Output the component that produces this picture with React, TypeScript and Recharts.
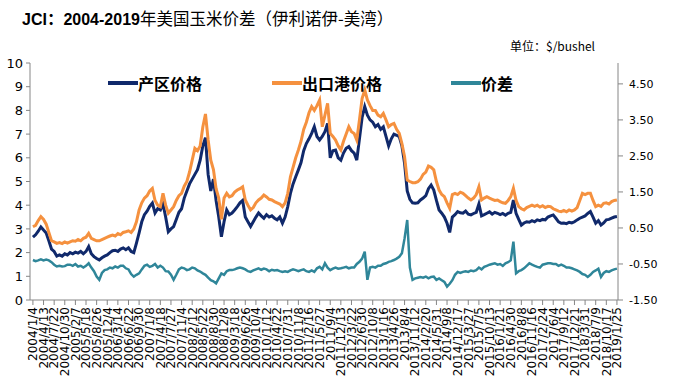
import React from "react";
import { LineChart, Line, XAxis, YAxis } from "recharts";

// Tick labels (one every 100 days); data points are every 25 days (4 per label)
const dateLabels = [
  "2004/1/4", "2004/4/13", "2004/7/22", "2004/10/30", "2005/2/7", "2005/5/18", "2005/8/26", "2005/12/4",
  "2006/3/14", "2006/6/22", "2006/9/30", "2007/1/8", "2007/4/18", "2007/7/27", "2007/11/4", "2008/2/12",
  "2008/5/22", "2008/8/30", "2008/12/8", "2009/3/18", "2009/6/26", "2009/10/4", "2010/1/12", "2010/4/22",
  "2010/7/31", "2010/11/8", "2011/2/16", "2011/5/27", "2011/9/4", "2011/12/13", "2012/3/22", "2012/6/30",
  "2012/10/8", "2013/1/16", "2013/4/26", "2013/8/4", "2013/11/12", "2014/2/20", "2014/5/31", "2014/9/8",
  "2014/12/17", "2015/3/27", "2015/7/5", "2015/10/13", "2016/1/21", "2016/4/30", "2016/8/8", "2016/11/16",
  "2017/2/24", "2017/6/4", "2017/9/12", "2017/12/21", "2018/3/31", "2018/7/9", "2018/10/17", "2019/1/25",
];

// 产区价格 (Illinois), $/bushel
const producerPrice = [
  2.65, 2.75, 2.9, 3.08, 2.95, 2.83, 2.5, 2.15, 2.05, 1.85, 1.9, 1.85, 1.95, 1.9, 2.0, 1.95,
  2.02, 1.98, 2.05, 1.95, 2.05, 2.25, 1.95, 1.83, 1.75, 1.69, 1.78, 1.85, 1.9, 2.0, 2.08, 2.1,
  2.05, 2.15, 2.2, 2.12, 2.2, 2.05, 2.0, 2.4, 2.83, 3.3, 3.6, 3.75, 3.95, 4.09, 3.67, 3.85,
  3.8, 4.05, 3.5, 2.88, 3.0, 3.1, 3.4, 3.7, 3.85, 4.3, 4.6, 4.9, 5.1, 5.3, 5.5, 5.9,
  6.5, 6.85, 5.3, 4.6, 5.1, 4.2, 3.5, 2.67, 3.3, 3.8, 3.6, 3.67, 3.8, 3.94, 4.1, 4.2,
  3.5, 3.3, 3.1, 3.3, 3.5, 3.67, 3.55, 3.45, 3.6, 3.5, 3.55, 3.45, 3.38, 3.5, 3.24, 3.5,
  3.94, 4.5, 4.9, 5.2, 5.49, 5.8, 6.3, 6.6, 6.8, 7.03, 7.31, 6.9, 6.75, 6.9, 7.1, 7.45,
  6.0, 6.3, 6.33, 6.0, 5.9, 6.2, 6.4, 6.47, 6.3, 6.2, 5.9, 6.8, 7.7, 8.16, 7.8, 7.6,
  7.5, 7.31, 7.4, 7.2, 7.31, 6.9, 6.5, 6.8, 7.0, 6.95, 6.89, 6.5, 5.77, 4.6, 4.25, 4.1,
  4.08, 4.1, 4.22, 4.3, 4.4, 4.7, 4.85, 4.64, 4.2, 3.8, 3.66, 3.5, 3.24, 2.85, 3.5, 3.6,
  3.73, 3.68, 3.66, 3.75, 3.62, 3.59, 3.65, 3.7, 4.05, 3.55, 3.6, 3.66, 3.72, 3.62, 3.7, 3.66,
  3.6, 3.65, 3.58, 3.66, 3.7, 4.22, 3.66, 3.4, 3.16, 3.25, 3.3, 3.28, 3.35, 3.3, 3.38, 3.35,
  3.4, 3.38, 3.5, 3.55, 3.59, 3.45, 3.3, 3.24, 3.25, 3.22, 3.28, 3.25, 3.3, 3.38, 3.45, 3.5,
  3.55, 3.65, 3.73, 3.5, 3.24, 3.35, 3.16, 3.25, 3.38, 3.4, 3.45, 3.5, 3.52,
];

// 出口港价格 (Gulf), $/bushel
const exportPrice = [
  3.09, 3.15, 3.35, 3.52, 3.4, 3.2, 2.85, 2.5, 2.45, 2.39, 2.42, 2.38, 2.45, 2.4, 2.45, 2.5,
  2.48, 2.55, 2.5, 2.6, 2.65, 2.81, 2.6, 2.55, 2.5, 2.5, 2.55, 2.6, 2.65, 2.7, 2.74, 2.7,
  2.8, 2.75, 2.85, 2.88, 2.92, 2.85, 3.0, 3.3, 3.8, 4.1, 4.3, 4.4, 4.6, 4.71, 4.2, 4.0,
  3.94, 4.5, 4.0, 3.66, 3.8, 3.94, 4.2, 4.4, 4.5, 4.8, 5.0, 5.4, 5.9, 6.4, 6.3, 6.5,
  7.3, 7.85, 6.75, 5.9, 5.5, 4.7, 4.3, 3.4, 4.3, 4.5, 4.35, 4.4, 4.55, 4.64, 4.7, 4.78,
  4.22, 4.0, 3.8, 3.9, 4.1, 4.22, 4.3, 4.43, 4.35, 4.25, 4.22, 4.15, 4.1, 4.05, 3.94, 4.1,
  4.5, 5.2, 5.6, 6.0, 6.33, 6.7, 7.2, 7.5, 7.9, 8.16, 8.0, 8.2, 8.44, 7.31, 7.8, 8.3,
  7.03, 6.9, 6.75, 6.5, 6.33, 6.7, 7.0, 7.31, 7.1, 7.03, 6.75, 7.6, 8.5, 8.86, 8.44, 8.2,
  8.0, 8.0, 7.8, 7.73, 7.87, 7.6, 7.31, 7.4, 7.45, 7.2, 7.03, 6.6, 6.05, 5.06, 5.0, 4.95,
  4.95, 4.99, 5.1, 5.3, 5.4, 5.65, 5.6, 5.49, 5.0, 4.64, 4.45, 4.36, 4.1, 3.87, 4.45, 4.5,
  4.45, 4.55, 4.5, 4.4, 4.3, 4.22, 4.3, 4.45, 4.78, 4.22, 4.3, 4.36, 4.3, 4.25, 4.2, 4.22,
  4.15, 4.1, 4.08, 4.2, 4.36, 4.71, 4.2, 3.94, 3.85, 3.8, 3.9, 3.95, 4.0, 3.95, 4.0, 3.92,
  3.98, 3.9, 3.95, 3.94, 3.85, 3.8, 3.75, 3.73, 3.78, 3.72, 3.8, 3.75, 3.8, 3.9, 4.2, 4.5,
  4.45, 4.5, 4.5, 4.2, 3.94, 4.0, 3.95, 4.08, 4.1, 4.05, 4.15, 4.2, 4.22,
];

// 价差 (right axis), $/bushel
const spread = [
  -0.39, -0.42, -0.4, -0.37, -0.4, -0.38, -0.4, -0.45, -0.52, -0.57, -0.55, -0.57, -0.56, -0.52, -0.52, -0.55,
  -0.5, -0.57, -0.55, -0.6, -0.55, -0.48, -0.6, -0.7, -0.85, -0.94, -0.75, -0.67, -0.65, -0.6, -0.62, -0.57,
  -0.6, -0.55, -0.55, -0.62, -0.65, -0.78, -0.85, -0.8, -0.76, -0.65, -0.55, -0.52, -0.58, -0.55, -0.5, -0.6,
  -0.55, -0.6, -0.7, -0.71, -0.8, -0.94, -0.8, -0.65, -0.6, -0.62, -0.67, -0.65, -0.6, -0.62, -0.68, -0.71,
  -0.76, -0.8, -0.88, -0.95, -0.98, -1.04, -0.9, -0.76, -0.8, -0.7, -0.67, -0.67, -0.65, -0.62, -0.6, -0.62,
  -0.65, -0.7, -0.72, -0.68, -0.65, -0.62, -0.66, -0.63, -0.65, -0.7, -0.66, -0.68, -0.67, -0.7, -0.72, -0.7,
  -0.72, -0.68, -0.65, -0.67, -0.7, -0.67, -0.65, -0.7, -0.72, -0.68, -0.72, -0.62, -0.58, -0.65, -0.48, -0.6,
  -0.67, -0.63, -0.6, -0.63, -0.62, -0.6, -0.58, -0.62, -0.6, -0.6, -0.5, -0.44, -0.35, -0.16, -0.94, -0.6,
  -0.58, -0.6, -0.55, -0.55, -0.5, -0.48, -0.44, -0.42, -0.39, -0.35, -0.3, -0.2, 0.21, 0.72, -0.6, -0.94,
  -0.9, -0.88, -0.86, -0.88, -0.85, -0.9, -0.86, -0.85, -0.94, -0.9, -0.95, -1.0, -1.13, -1.05, -0.95, -0.8,
  -0.72, -0.75, -0.72, -0.7, -0.72, -0.68, -0.7, -0.67, -0.6, -0.65, -0.58, -0.55, -0.52, -0.5, -0.48, -0.52,
  -0.5, -0.55, -0.48, -0.45, -0.4, 0.12, -0.76, -0.7, -0.67, -0.62, -0.55, -0.48, -0.52, -0.55, -0.58, -0.6,
  -0.52, -0.5, -0.48, -0.48, -0.5, -0.5, -0.55, -0.52, -0.55, -0.6, -0.6, -0.62, -0.65, -0.68, -0.72, -0.78,
  -0.8, -0.86, -0.8, -0.72, -0.68, -0.63, -0.86, -0.75, -0.7, -0.72, -0.68, -0.65, -0.63,
];

const leftTicks = [0, 1, 2, 3, 4, 5, 6, 7, 8, 9, 10];
const rightTicks = [-1.5, -0.5, 0.5, 1.5, 2.5, 3.5, 4.5];

const PER_LABEL = 4;
const xTicks = dateLabels.map((_, k) => k * PER_LABEL);

const data = producerPrice.map((p, i) => ({
  i,
  p,
  e: exportPrice[i],
  s: spread[i],
}));

const C_PROD = "#10296b";
const C_EXP = "#f5913f";
const C_SPR = "#2f8699";
const AXIS = "#868686";

const XTick = (props: any) => {
  const { x, y, payload } = props;
  const label = dateLabels[Math.round(payload.value / PER_LABEL)] ?? "";
  return (
    <text
      x={x}
      y={y}
      transform={`rotate(-90 ${x} ${y})`}
      textAnchor="end"
      dy="0.36em"
      fontSize={12}
      fontFamily="DejaVu Sans"
      fill="#000"
    >
      {label}
    </text>
  );
};

const LegendItem = ({ left, color, text }: { left: number; color: string; text: string }) => (
  <div style={{ position: "absolute", left, top: 73, display: "flex", alignItems: "center", height: 20 }}>
    <div style={{ width: 30, height: 4, background: color }} />
    <span
      style={{
        fontFamily: "'Noto Sans CJK SC'",
        fontWeight: 700,
        fontSize: 16,
        color: "#000",
        lineHeight: "20px",
      }}
    >
      {text}
    </span>
  </div>
);

export default function App() {
  return (
    <div style={{ position: "absolute", left: 0, top: 0, width: 674, height: 379, background: "#fff", overflow: "hidden" }}>
      <div
        style={{
          position: "absolute",
          left: 22,
          top: 6,
          whiteSpace: "nowrap",
          fontSize: 16.5,
          lineHeight: "24px",
          color: "#000",
        }}
      >
        <span style={{ fontFamily: "'Liberation Sans'", fontWeight: 700, fontSize: 16 }}>JCI</span>
        <span style={{ fontFamily: "'Noto Sans CJK SC'", fontWeight: 700 }}>：</span>
        <span style={{ fontFamily: "'Liberation Sans'", fontWeight: 700, fontSize: 16 }}>2004-2019</span>
        <span style={{ fontFamily: "'Noto Sans CJK SC'", fontWeight: 400 }}>年美国玉米价差（伊利诺伊-美湾）</span>
      </div>
      <div
        style={{
          position: "absolute",
          left: 510,
          top: 38,
          whiteSpace: "nowrap",
          fontSize: 12,
          lineHeight: "16px",
          fontFamily: "'Noto Sans CJK SC'",
          color: "#000",
        }}
      >
        单位：$/bushel
      </div>
      <LineChart
        width={674}
        height={379}
        data={data}
        margin={{ top: 63, right: 0, bottom: 0, left: 0 }}
        style={{ position: "absolute", left: 0, top: 0 }}
      >
        <XAxis
          dataKey="i"
          type="number"
          domain={[-1.1, 220.4]}
          allowDataOverflow
          ticks={xTicks}
          interval={0}
          height={79}
          tickSize={5}
          tickMargin={2}
          stroke={AXIS}
          tick={<XTick />}
        />
        <YAxis
          yAxisId="left"
          orientation="left"
          domain={[0, 10]}
          ticks={leftTicks}
          interval={0}
          width={30}
          tickSize={4}
          tickMargin={3}
          stroke={AXIS}
          tick={{ fontSize: 13, fontFamily: "DejaVu Sans", fill: "#000" }}
          allowDataOverflow
        />
        <YAxis
          yAxisId="right"
          orientation="right"
          domain={[-1.5, 5.08]}
          ticks={rightTicks}
          interval={0}
          width={56}
          tickSize={5}
          tickMargin={6}
          stroke={AXIS}
          tick={{ fontSize: 11, fontFamily: "DejaVu Sans", fill: "#000" }}
          tickFormatter={(v: number) => v.toFixed(2)}
          allowDataOverflow
        />
        <Line yAxisId="left" type="linear" dataKey="p" stroke={C_PROD} strokeWidth={3} dot={false} isAnimationActive={false} />
        <Line yAxisId="left" type="linear" dataKey="e" stroke={C_EXP} strokeWidth={3} dot={false} isAnimationActive={false} />
        <Line yAxisId="right" type="linear" dataKey="s" stroke={C_SPR} strokeWidth={2.5} dot={false} isAnimationActive={false} />
      </LineChart>
      <LegendItem left={108} color={C_PROD} text="产区价格" />
      <LegendItem left={272} color={C_EXP} text="出口港价格" />
      <LegendItem left={451} color={C_SPR} text="价差" />
    </div>
  );
}
